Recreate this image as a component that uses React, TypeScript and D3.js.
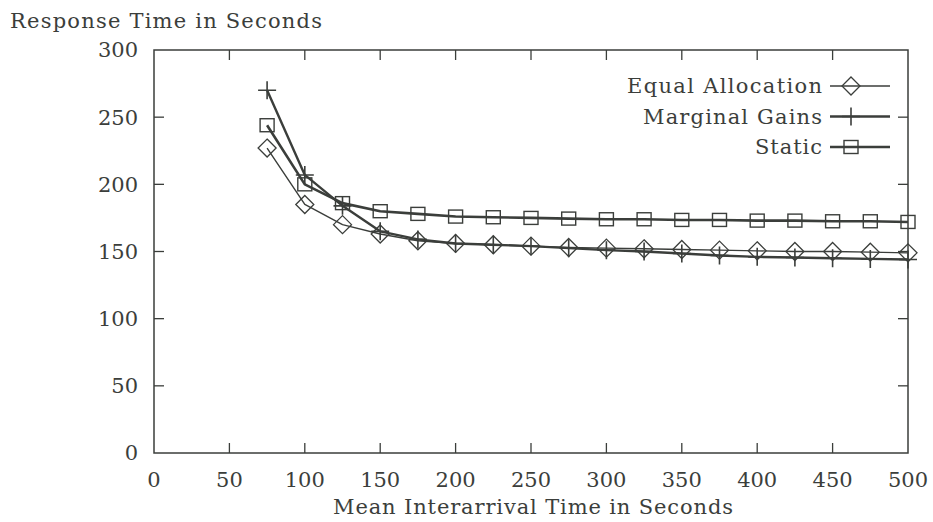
import React, { useEffect, useRef } from "react";
import * as d3 from "d3";

// mean interarrival time (s)
const interarrival = [75, 100, 125, 150, 175, 200, 225, 250, 275, 300, 325, 350, 375, 400, 425, 450, 475, 500];
const equalAllocation = [227, 185, 170, 163, 158, 156, 155, 154, 153, 152.5, 152, 151.5, 151, 150.5, 150, 150, 149.5, 149];
const marginalGains = [270, 207, 184, 165, 159, 156, 155, 154, 152.5, 151, 150, 148.5, 147, 146, 145.5, 145, 144.5, 144];
const staticAlloc = [244, 200, 186, 180, 178, 176, 175.5, 175, 174.5, 174, 174, 173.5, 173.5, 173, 173, 172.5, 172.5, 172];
const xTicks = [0, 50, 100, 150, 200, 250, 300, 350, 400, 450, 500];
const yTicks = [0, 50, 100, 150, 200, 250, 300];
const seriesNames = ["Equal Allocation", "Marginal Gains", "Static"];
const legendWidths = [195, 179, 67];

const W = 933, H = 522;
const margin = { left: 154, right: 25, top: 50, bottom: 69 };
const ink = "#3b3e3b";
const font = "'DejaVu Serif', serif";
const fontSize = 21;

function drawMarker(g: any, kind: string, cx: number, cy: number) {
  if (kind === "diamond") {
    const r = 9;
    g.append("path")
      .attr("d", `M${cx},${cy - r}L${cx + r},${cy}L${cx},${cy + r}L${cx - r},${cy}Z`)
      .attr("fill", "none").attr("stroke", ink).attr("stroke-width", 1.3);
  } else if (kind === "plus") {
    const r = 9;
    g.append("path")
      .attr("d", `M${cx - r},${cy}H${cx + r}M${cx},${cy - r}V${cy + r}`)
      .attr("stroke", ink).attr("stroke-width", 1.6);
  } else {
    g.append("rect")
      .attr("x", cx - 7).attr("y", cy - 6.5).attr("width", 14).attr("height", 13)
      .attr("fill", "none").attr("stroke", ink).attr("stroke-width", 1.4);
  }
}

export default function App() {
  const svgRef = useRef<SVGSVGElement>(null);

  useEffect(() => {
    const svg = d3.select(svgRef.current);
    svg.selectAll("*").remove();

    const x = d3.scaleLinear().domain([0, 500]).range([margin.left, W - margin.right]);
    const y = d3.scaleLinear().domain([0, 300]).range([H - margin.bottom, margin.top]);
    const [x0, x1] = x.range();
    const [y0, y1] = y.range();

    // frame
    svg.append("rect")
      .attr("x", x0).attr("y", y1).attr("width", x1 - x0).attr("height", y0 - y1)
      .attr("fill", "none").attr("stroke", ink).attr("stroke-width", 1.5);

    // inward ticks on all sides
    const tickLen = 10;
    const ticks = svg.append("g").attr("stroke", ink).attr("stroke-width", 1.3);
    xTicks.slice(1, -1).forEach(t => {
      ticks.append("line").attr("x1", x(t)).attr("x2", x(t)).attr("y1", y0).attr("y2", y0 - tickLen);
      ticks.append("line").attr("x1", x(t)).attr("x2", x(t)).attr("y1", y1).attr("y2", y1 + tickLen);
    });
    yTicks.slice(1, -1).forEach(t => {
      ticks.append("line").attr("x1", x0).attr("x2", x0 + tickLen).attr("y1", y(t)).attr("y2", y(t));
      ticks.append("line").attr("x1", x1).attr("x2", x1 - tickLen).attr("y1", y(t)).attr("y2", y(t));
    });

    // tick labels
    const labels = svg.append("g").attr("font-family", font).attr("font-size", fontSize).attr("fill", ink);
    yTicks.forEach(t => {
      labels.append("text").attr("x", x0 - 16).attr("y", y(t)).attr("dy", "0.35em")
        .attr("text-anchor", "end").text(t);
    });
    xTicks.forEach(t => {
      labels.append("text").attr("x", x(t)).attr("y", y0 + 34)
        .attr("text-anchor", "middle").text(t);
    });

    // axis titles
    svg.append("text").attr("x", 10).attr("y", 28)
      .attr("font-family", font).attr("font-size", fontSize).attr("fill", ink)
      .attr("textLength", 312)
      .text("Response Time in Seconds");
    svg.append("text").attr("x", 533).attr("y", y0 + 61)
      .attr("text-anchor", "middle")
      .attr("font-family", font).attr("font-size", fontSize).attr("fill", ink)
      .attr("textLength", 400)
      .text("Mean Interarrival Time in Seconds");

    const series = [
      { name: seriesNames[0], values: equalAllocation, kind: "diamond", width: 1.4 },
      { name: seriesNames[1], values: marginalGains, kind: "plus", width: 2.4 },
      { name: seriesNames[2], values: staticAlloc, kind: "square", width: 2.6 },
    ];

    const line = d3.line<number>()
      .x((_, i) => x(interarrival[i]))
      .y(d => y(d));

    series.forEach(s => {
      const g = svg.append("g");
      g.append("path").attr("d", line(s.values))
        .attr("fill", "none").attr("stroke", ink).attr("stroke-width", s.width)
        .attr("stroke-linejoin", "round");
      s.values.forEach((v, i) => drawMarker(g, s.kind, x(interarrival[i]), y(v)));
    });

    // legend
    const legend = svg.append("g");
    series.forEach((s, i) => {
      const ly = 86 + i * 30.5;
      legend.append("text").attr("x", 822).attr("y", ly).attr("dy", "0.35em")
        .attr("text-anchor", "end")
        .attr("font-family", font).attr("font-size", fontSize).attr("fill", ink)
        .attr("textLength", legendWidths[i])
        .text(s.name);
      legend.append("line").attr("x1", 830).attr("x2", 890).attr("y1", ly).attr("y2", ly)
        .attr("stroke", ink).attr("stroke-width", s.width);
      drawMarker(legend, s.kind, 851, ly);
    });
  }, []);

  return (
    <svg ref={svgRef} width={W} height={H}
      style={{ position: "absolute", left: 0, top: 0, background: "#fff" }} />
  );
}
